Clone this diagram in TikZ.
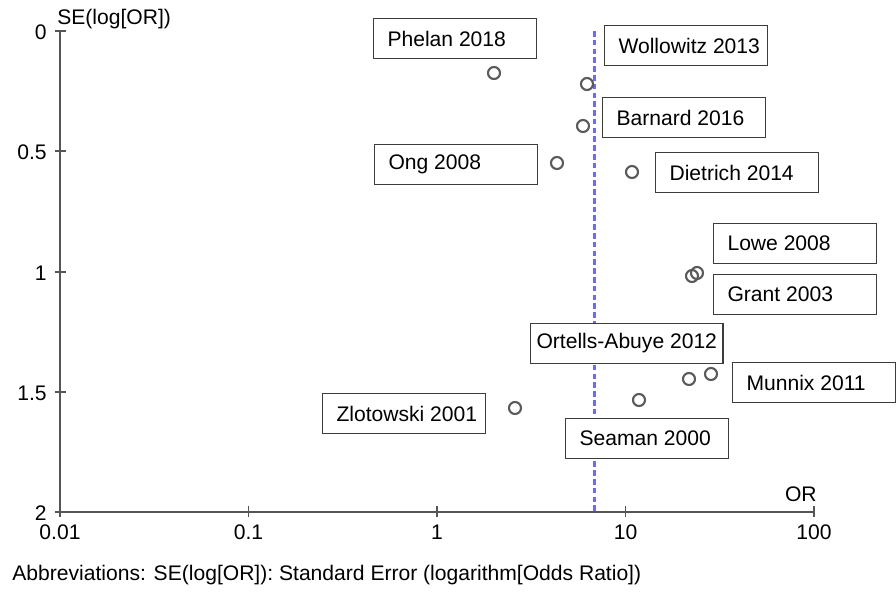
\documentclass[tikz,border=0pt]{standalone}
\usepackage{fontspec}
\setmainfont{Liberation Sans}
\definecolor{axisgray}{RGB}{85,85,85}
\definecolor{dotgray}{RGB}{90,90,90}
\definecolor{boxgray}{RGB}{60,60,60}
\definecolor{meanblue}{RGB}{110,110,225}
\newcommand{\lbltxt}[1]{\makebox[2.7cm][l]{#1}}

\begin{document}
\begin{tikzpicture}[x=0.02cm, y=-0.02cm, font=\fontsize{12}{14}\selectfont,
    study/.style={circle, draw=dotgray, line width=1.2pt, minimum size=0.24cm, inner sep=0pt},
    lbl/.style={draw=boxgray, line width=0.6pt, fill=white, anchor=north west,
                minimum height=0.8cm, inner xsep=0.28cm, inner ysep=0pt},
    axtick/.style={axisgray, line width=1.1pt},
    axlabel/.style={inner sep=0pt}]
    \useasboundingbox (0,0) rectangle (896,593);

    % Draw the pooled odds ratio line
    \draw[meanblue, line width=1.4pt, dash pattern=on 3.2pt off 1.8pt] (594.5,31) -- (594.5,512);

    % Draw the axes
    \draw[axisgray, line width=1.3pt] (60,31) -- (60,512) -- (814,512);
    \foreach \y/\t in {31/0, 151/0.5, 272/1, 392/1.5, 512/2} {
        \draw[axtick] (55,\y) -- (66,\y);
        \node[axlabel, anchor=east] at (47,\y+1) {\t};
    }
    \foreach \x/\t in {60/0.01, 248.5/0.1, 437/1, 625.5/10, 814/100} {
        \draw[axtick] (\x,506) -- (\x,517);
        \node[axlabel] at (\x,532) {\t};
    }

    % Label the axes
    \node[axlabel, anchor=base west] (yname) at (57,24) {SE(log[OR])};
    \node[axlabel, anchor=base east] (xname) at (817,501) {OR};

    % Add the studies
    \node[study] (phelan) at (494,73) {};
    \node[study] (wollowitz) at (587,84) {};
    \node[study] (barnard) at (583,126) {};
    \node[study] (ong) at (557,163) {};
    \node[study] (dietrich) at (632,172) {};
    \node[study] (grant) at (692,276) {};
    \node[study] (lowe) at (697,273) {};
    \node[study] (ortells) at (689,379) {};
    \node[study] (munnix) at (711,374) {};
    \node[study] (seaman) at (639,400) {};
    \node[study] (zlotowski) at (515,408) {};

    % Add the study labels
    \node[lbl] (phelanlbl) at (373,18) {\lbltxt{Phelan 2018}};
    \node[lbl] (wollowitzlbl) at (604,25) {\lbltxt{Wollowitz 2013}};
    \node[lbl] (barnardlbl) at (602,97) {\lbltxt{Barnard 2016}};
    \node[lbl] (onglbl) at (374,144) {\lbltxt{Ong 2008}};
    \node[lbl] (dietrichlbl) at (655,152) {\lbltxt{Dietrich 2014}};
    \node[lbl] (lowelbl) at (713,223) {\lbltxt{Lowe 2008}};
    \node[lbl] (grantlbl) at (713,274) {\lbltxt{Grant 2003}};
    \node[lbl, inner xsep=0.12cm] (ortellslbl) at (530,323) {Ortells-Abuye 2012};
    \node[lbl] (munnixlbl) at (732,362) {\lbltxt{Munnix 2011}};
    \node[lbl] (zlotowskilbl) at (322,393) {\lbltxt{Zlotowski 2001}};
    \node[lbl] (seamanlbl) at (565,418) {\lbltxt{Seaman 2000}};

    % Add the abbreviations
    \node[axlabel, anchor=base west] (abbr) at (12,580) {Abbreviations: SE(log[OR]): Standard Error (logarithm[Odds Ratio])};

\end{tikzpicture}
\end{document}
